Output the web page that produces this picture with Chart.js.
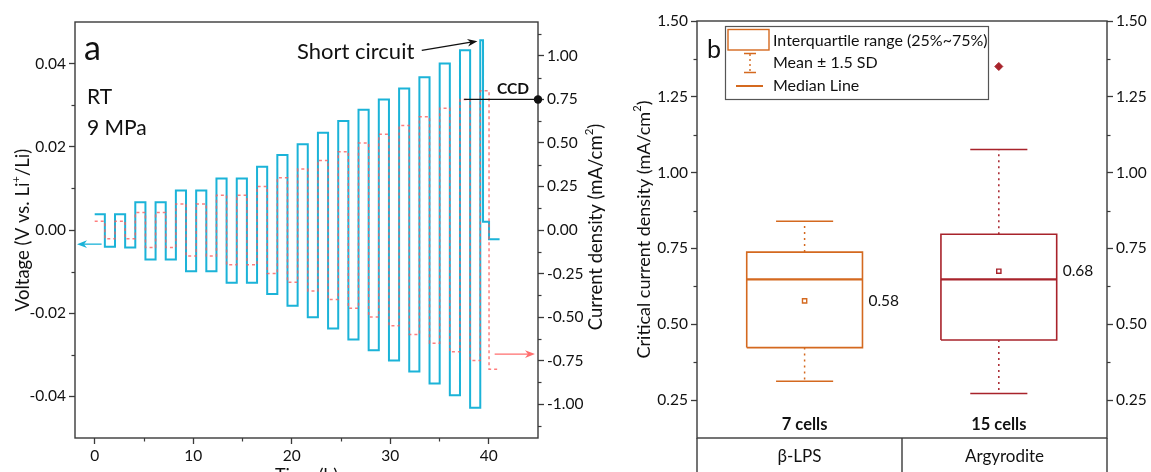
<!DOCTYPE html>
<html>
<head>
<meta charset="utf-8">
<script src="https://cdn.jsdelivr.net/npm/chart.js@4.4.1/dist/chart.umd.min.js"></script>
<style>
  html, body { margin: 0; padding: 0; background: #fff; }
  #wrap { position: relative; width: 1151px; height: 472px; overflow: hidden; }
  #panelA { position: absolute; left: 0; top: 0; width: 625px; height: 472px; }
  #panelB { position: absolute; left: 625px; top: 0; width: 526px; height: 472px; }
</style>
</head>
<body>
<div id="wrap">
  <canvas id="panelA" width="625" height="472"></canvas>
  <canvas id="panelB" width="526" height="472"></canvas>
</div>
<script>
// ---- panel a: Li | Li cycling, one entry per cycle ----
const cycleStart = [0, 2.06, 4.12, 6.18, 8.24, 10.3, 12.36, 14.42, 16.48, 18.54,
  20.6, 22.66, 24.72, 26.78, 28.84, 30.9, 32.96, 35.02, 37.08, 39.14];
const stepHours = 1.03;
const currentSteps = [0.05, 0.05, 0.1, 0.1, 0.15, 0.15, 0.2, 0.2, 0.25, 0.3,
  0.35, 0.4, 0.45, 0.5, 0.55, 0.6, 0.65, 0.7, 0.75, 0.8];
const voltPlus = [0.0038, 0.0038, 0.0067, 0.0067, 0.0095, 0.0095, 0.0124, 0.0124, 0.0152, 0.018,
  0.0206, 0.0234, 0.0262, 0.0289, 0.0314, 0.034, 0.0367, 0.04, 0.0432, 0.0456];
const voltMinus = [-0.004, -0.0042, -0.0071, -0.0071, -0.0099, -0.0099, -0.0127, -0.0127, -0.0154, -0.0182,
  -0.021, -0.0237, -0.0263, -0.0289, -0.0314, -0.034, -0.0369, -0.0397, -0.0427];
// after the short circuit
const tailTime = [39.42, 40.03, 41.1];
const tailVolt = [0.002, -0.0022];
const tailCurrentEnd = 40.95;
const ccdValue = 0.75;

const timeTicks = [0, 10, 20, 30, 40];
const timeMinor = [5, 15, 25, 35];
const voltTicks = [-0.04, -0.02, 0, 0.02, 0.04];
const voltMinor = [-0.03, -0.01, 0.01, 0.03];
const currTicks = [-1, -0.75, -0.5, -0.25, 0, 0.25, 0.5, 0.75, 1];
const currMinor = [-1.125, -0.875, -0.625, -0.375, -0.125, 0.125, 0.375, 0.625, 0.875, 1.125];

// ---- panel b: critical current density statistics ----
const materials = ['β-LPS', 'Argyrodite'];
const cellCounts = ['7 cells', '15 cells'];
const q1 = [0.423, 0.448];
const q3 = [0.738, 0.797];
const medians = [0.648, 0.648];
const means = [0.577, 0.675];
const meanLabels = ['0.58', '0.68'];
const whiskerLow = [0.312, 0.272];
const whiskerHigh = [0.84, 1.076];
const outlierVals = [null, 1.35];
const ccdTicks = [0.25, 0.5, 0.75, 1.0, 1.25, 1.5];
const ccdMinor = [0.375, 0.625, 0.875, 1.125, 1.375];

const FONT = 'Lato';
const axisColor = '#3a3a3a';
const textColor = '#111';
const cyan = '#1BB3D8';
const pink = 'rgba(255, 92, 92, 0.8)';
const boxColors = ['#D4691F', '#A8232B'];

Chart.defaults.font.family = FONT;
Chart.defaults.font.size = 15;
Chart.defaults.color = textColor;

// build the stepped traces
const voltPts = [];
const currPts = [];
cycleStart.forEach((t0, i) => {
  const last = i === cycleStart.length - 1;
  if (i > 0) voltPts.push({ x: t0, y: voltMinus[i - 1] });
  voltPts.push({ x: t0, y: voltPlus[i] });
  currPts.push({ x: t0, y: currentSteps[i] });
  if (!last) {
    voltPts.push({ x: t0 + stepHours, y: voltPlus[i] }, { x: t0 + stepHours, y: voltMinus[i] });
    currPts.push({ x: t0 + stepHours, y: currentSteps[i] }, { x: t0 + stepHours, y: -currentSteps[i] },
      { x: cycleStart[i + 1], y: -currentSteps[i] });
  } else {
    voltPts.push({ x: tailTime[0], y: voltPlus[i] });
    voltPts.push({ x: tailTime[0], y: tailVolt[0] }, { x: tailTime[1], y: tailVolt[0] },
      { x: tailTime[1], y: tailVolt[1] }, { x: tailTime[2], y: tailVolt[1] });
    currPts.push({ x: tailTime[1], y: currentSteps[i] }, { x: tailTime[1], y: -currentSteps[i] },
      { x: tailCurrentEnd, y: -currentSteps[i] });
  }
});

function fixedTicks(list) {
  return scale => { scale.ticks = list.map(v => ({ value: v })); };
}

function axis(extra, ticksExtra) {
  return Object.assign({
    grid: { drawOnChartArea: false, drawTicks: true, tickLength: 6, tickColor: axisColor, tickWidth: 1.3 },
    border: { display: false },
    ticks: Object.assign({ color: textColor, font: { size: 15.5 }, padding: 3 }, ticksExtra)
  }, extra);
}

function drawRich(ctx, parts, cx, cy, size, angle) {
  ctx.save();
  ctx.translate(cx, cy);
  ctx.rotate(angle);
  const widths = parts.map(p => {
    ctx.font = (p.sup ? size * 0.62 : size) + 'px ' + FONT;
    return ctx.measureText(p.t).width;
  });
  let xx = -widths.reduce((s, w) => s + w, 0) / 2;
  ctx.textAlign = 'left';
  ctx.textBaseline = 'middle';
  ctx.fillStyle = textColor;
  parts.forEach((p, i) => {
    ctx.font = (p.sup ? size * 0.62 : size) + 'px ' + FONT;
    ctx.fillText(p.t, xx, p.sup ? -size * 0.36 : 0);
    xx += widths[i];
  });
  ctx.restore();
}

function arrow(ctx, x1, y1, x2, y2, color, head) {
  const ang = Math.atan2(y2 - y1, x2 - x1);
  const c = Math.cos(ang), s = Math.sin(ang);
  ctx.strokeStyle = color;
  ctx.fillStyle = color;
  ctx.lineWidth = 1.3;
  ctx.beginPath();
  ctx.moveTo(x1, y1);
  ctx.lineTo(x2 - head * 0.5 * c, y2 - head * 0.5 * s);
  ctx.stroke();
  ctx.beginPath();
  ctx.moveTo(x2, y2);
  ctx.lineTo(x2 - head * c + head * 0.38 * s, y2 - head * s - head * 0.38 * c);
  ctx.lineTo(x2 - head * 0.7 * c, y2 - head * 0.7 * s);
  ctx.lineTo(x2 - head * c - head * 0.38 * s, y2 - head * s + head * 0.38 * c);
  ctx.closePath();
  ctx.fill();
}

function minorTicks(ctx, scale, values, side, area) {
  ctx.strokeStyle = axisColor;
  ctx.lineWidth = 1.2;
  values.forEach(v => {
    const p = Math.round(scale.getPixelForValue(v)) + 0.5;
    ctx.beginPath();
    if (side === 'left') { ctx.moveTo(area.left - 3.5, p); ctx.lineTo(area.left, p); }
    if (side === 'right') { ctx.moveTo(area.right, p); ctx.lineTo(area.right + 3.5, p); }
    if (side === 'bottom') { ctx.moveTo(p, area.bottom); ctx.lineTo(p, area.bottom + 3.5); }
    ctx.stroke();
  });
}

const decorA = {
  id: 'decorA',
  afterDraw(chart) {
    const { ctx, chartArea: a, scales } = chart;
    const x = scales.x, yV = scales.yV, yJ = scales.yJ;
    ctx.save();
    ctx.strokeStyle = axisColor;
    ctx.lineWidth = 1.4;
    ctx.strokeRect(a.left, a.top, a.right - a.left, a.bottom - a.top);
    minorTicks(ctx, yV, voltMinor, 'left', a);
    minorTicks(ctx, yJ, currMinor, 'right', a);
    minorTicks(ctx, x, timeMinor, 'bottom', a);

    // axis titles
    drawRich(ctx, [{ t: 'Voltage (V vs. Li' }, { t: '+', sup: true }, { t: '/Li)' }], 23, (a.top + a.bottom) / 2, 18.5, -Math.PI / 2);
    drawRich(ctx, [{ t: 'Current density (mA/cm' }, { t: '2', sup: true }, { t: ')' }], 596, (a.top + a.bottom) / 2 - 3, 18.5, -Math.PI / 2);
    ctx.fillStyle = textColor;
    ctx.font = '18px ' + FONT;
    ctx.textAlign = 'center';
    ctx.textBaseline = 'top';
    ctx.fillText('Time (h)', (a.left + a.right) / 2, 466);

    // labels
    ctx.textAlign = 'left';
    ctx.textBaseline = 'alphabetic';
    ctx.font = '34px ' + FONT;
    ctx.fillText('a', 84, 60);
    ctx.font = '21px ' + FONT;
    ctx.textBaseline = 'middle';
    ctx.fillText('RT', 87, 97);
    ctx.fillText('9 MPa', 87, 128);
    ctx.font = '22px ' + FONT;
    ctx.fillText('Short circuit', 297, 52);
    ctx.font = 'bold 15.5px ' + FONT;
    ctx.fillText('CCD', 497, 89);

    // short circuit arrow
    arrow(ctx, x.getPixelForValue(33.2), yV.getPixelForValue(0.0432), x.getPixelForValue(38.85), yV.getPixelForValue(0.0454), '#111', 10);
    // CCD marker
    const yc = yJ.getPixelForValue(ccdValue);
    ctx.strokeStyle = '#111';
    ctx.lineWidth = 1.3;
    ctx.beginPath();
    ctx.moveTo(x.getPixelForValue(37.5), yc);
    ctx.lineTo(a.right, yc);
    ctx.stroke();
    ctx.fillStyle = '#111';
    ctx.beginPath();
    ctx.arc(a.right, yc, 4.2, 0, Math.PI * 2);
    ctx.fill();
    // axis arrows
    arrow(ctx, x.getPixelForValue(0.7), yV.getPixelForValue(-0.0034), a.left + 2, yV.getPixelForValue(-0.0034), cyan, 10);
    arrow(ctx, x.getPixelForValue(40.6), yJ.getPixelForValue(-0.713), a.right - 3, yJ.getPixelForValue(-0.713), '#FF6E6E', 10);
    ctx.restore();
  }
};

new Chart(document.getElementById('panelA'), {
  type: 'line',
  data: {
    datasets: [
      { label: 'Current density', data: currPts, yAxisID: 'yJ', borderColor: pink, borderWidth: 1.5,
        borderDash: [3, 3], pointRadius: 0, fill: false, tension: 0 },
      { label: 'Voltage', data: voltPts, yAxisID: 'yV', borderColor: cyan, borderWidth: 2,
        pointRadius: 0, fill: false, tension: 0 }
    ]
  },
  options: {
    responsive: false,
    animation: false,
    layout: { padding: { top: 22, left: 0, right: 0, bottom: 0 } },
    plugins: { legend: { display: false }, tooltip: { enabled: false } },
    scales: {
      x: axis({ type: 'linear', min: -2, max: 45, afterBuildTicks: fixedTicks(timeTicks),
        afterFit: s => { s.height = 34; } }, { callback: v => v }),
      yV: axis({ type: 'linear', position: 'left', min: -0.05, max: 0.05, afterBuildTicks: fixedTicks(voltTicks),
        afterFit: s => { s.width = 75; } }, { callback: v => v.toFixed(2) }),
      yJ: axis({ type: 'linear', position: 'right', min: -1.195, max: 1.195, afterBuildTicks: fixedTicks(currTicks),
        afterFit: s => { s.width = 87; } }, { callback: v => v.toFixed(2) })
    }
  },
  plugins: [decorA]
});

// ---- panel b datasets ----
const boxHalf = 0.298;
const capHalf = 0.147;
const datasetsB = [];
materials.forEach((m, i) => {
  const c = i + 1;
  const col = boxColors[i];
  datasetsB.push({
    data: [{ x: c - boxHalf, y: q1[i] }, { x: c + boxHalf, y: q1[i] }, { x: c + boxHalf, y: q3[i] },
      { x: c - boxHalf, y: q3[i] }, { x: c - boxHalf, y: q1[i] }],
    borderColor: col, borderWidth: 1.6, pointRadius: 0, fill: false
  });
  datasetsB.push({
    data: [{ x: c - boxHalf, y: medians[i] }, { x: c + boxHalf, y: medians[i] }],
    borderColor: col, borderWidth: 2.2, pointRadius: 0, fill: false
  });
  datasetsB.push({
    data: [{ x: c, y: q3[i] }, { x: c, y: whiskerHigh[i] }, { x: c, y: null }, { x: c, y: q1[i] }, { x: c, y: whiskerLow[i] }],
    borderColor: col, borderWidth: 1.5, borderDash: [2, 4], pointRadius: 0, fill: false, spanGaps: false
  });
  datasetsB.push({
    data: [{ x: c - capHalf, y: whiskerHigh[i] }, { x: c + capHalf, y: whiskerHigh[i] }, { x: c, y: null },
      { x: c - capHalf, y: whiskerLow[i] }, { x: c + capHalf, y: whiskerLow[i] }],
    borderColor: col, borderWidth: 1.5, pointRadius: 0, fill: false, spanGaps: false
  });
  datasetsB.push({
    data: [{ x: c, y: means[i] }], showLine: false, pointStyle: 'rect', pointRadius: 3,
    borderColor: col, borderWidth: 1.4, backgroundColor: '#fff'
  });
  if (outlierVals[i] !== null) {
    datasetsB.push({
      data: [{ x: c, y: outlierVals[i] }], showLine: false, pointStyle: 'rectRot', pointRadius: 4,
      borderColor: col, backgroundColor: col
    });
  }
});

const decorB = {
  id: 'decorB',
  afterDraw(chart) {
    const { ctx, chartArea: a, scales } = chart;
    const x = scales.x, y = scales.y;
    const H = chart.height;
    ctx.save();
    ctx.strokeStyle = axisColor;
    ctx.lineWidth = 1.4;
    ctx.strokeRect(a.left, a.top, a.right - a.left, a.bottom - a.top);
    // category table under the plot
    const mid = (a.left + a.right) / 2;
    ctx.beginPath();
    [a.left, mid, a.right].forEach(px => { ctx.moveTo(px, a.bottom); ctx.lineTo(px, H); });
    ctx.stroke();
    minorTicks(ctx, y, ccdMinor, 'left', a);
    minorTicks(ctx, y, ccdMinor, 'right', a);

    drawRich(ctx, [{ t: 'Critical current density (mA/cm' }, { t: '2', sup: true }, { t: ')' }], 19, (a.top + a.bottom) / 2, 18, -Math.PI / 2);

    ctx.fillStyle = textColor;
    ctx.textAlign = 'center';
    ctx.textBaseline = 'middle';
    ctx.font = '17px ' + FONT;
    ctx.fillText(materials[0], (a.left + mid) / 2, 457);
    ctx.fillText(materials[1], (mid + a.right) / 2, 457);
    ctx.font = 'bold 16.5px ' + FONT;
    cellCounts.forEach((t, i) => ctx.fillText(t, x.getPixelForValue(i + 1), y.getPixelForValue(0.17)));
    ctx.font = '15.5px ' + FONT;
    ctx.textAlign = 'left';
    meanLabels.forEach((t, i) => ctx.fillText(t, x.getPixelForValue(i + 1 + boxHalf) + 6, y.getPixelForValue(means[i])));

    ctx.textBaseline = 'alphabetic';
    ctx.font = '25px ' + FONT;
    ctx.fillText('b', 82, 58);

    // legend
    ctx.fillStyle = '#fff';
    ctx.fillRect(100.5, 26.5, 263, 73);
    ctx.strokeStyle = '#555';
    ctx.lineWidth = 1.2;
    ctx.strokeRect(100.5, 26.5, 263, 73);
    const lc = boxColors[0];
    ctx.strokeStyle = lc;
    ctx.lineWidth = 1.4;
    ctx.strokeRect(103, 29.5, 41, 20.5);
    ctx.beginPath();
    ctx.moveTo(119, 53.5); ctx.lineTo(131, 53.5);
    ctx.moveTo(119, 72.5); ctx.lineTo(131, 72.5);
    ctx.stroke();
    ctx.setLineDash([2, 3]);
    ctx.beginPath();
    ctx.moveTo(125, 54); ctx.lineTo(125, 72);
    ctx.stroke();
    ctx.setLineDash([]);
    ctx.lineWidth = 2;
    ctx.beginPath();
    ctx.moveTo(111, 86); ctx.lineTo(138, 86);
    ctx.stroke();
    ctx.fillStyle = textColor;
    ctx.font = '16px ' + FONT;
    ctx.textBaseline = 'middle';
    ctx.fillText('Interquartile range (25%~75%)', 148, 41);
    ctx.fillText('Mean ± 1.5 SD', 148, 63);
    ctx.fillText('Median Line', 148, 86);
    ctx.restore();
  }
};

new Chart(document.getElementById('panelB'), {
  type: 'line',
  data: { datasets: datasetsB },
  options: {
    responsive: false,
    animation: false,
    layout: { padding: { top: 21, left: 0, right: 0, bottom: 34 } },
    plugins: { legend: { display: false }, tooltip: { enabled: false } },
    scales: {
      x: { type: 'linear', min: 0.446, max: 2.557, display: false },
      y: axis({ type: 'linear', position: 'left', min: 0.125, max: 1.5, afterBuildTicks: fixedTicks(ccdTicks),
        afterFit: s => { s.width = 72; } }, { callback: v => v.toFixed(2) }),
      y2: axis({ type: 'linear', position: 'right', min: 0.125, max: 1.5, afterBuildTicks: fixedTicks(ccdTicks),
        afterFit: s => { s.width = 44; } }, { callback: v => v.toFixed(2) })
    }
  },
  plugins: [decorB]
});
</script>
</body>
</html>
